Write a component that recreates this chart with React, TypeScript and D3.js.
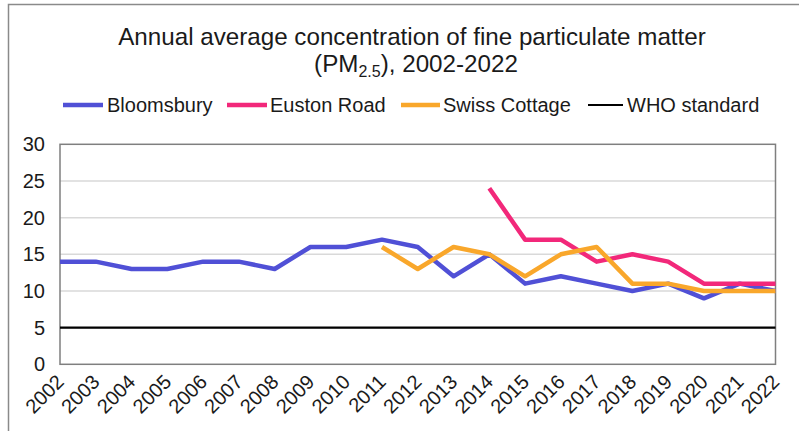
import React from "react";
import * as d3 from "d3";

const years = d3.range(2002, 2023);
const bloomsbury = [14, 14, 13, 13, 14, 14, 13, 16, 16, 17, 16, 12, 15, 11, 12, 11, 10, 11, 9, 11, 10];
const eustonYears = [2014, 2015, 2016, 2017, 2018, 2019, 2020, 2021, 2022];
const euston = [24, 17, 17, 14, 15, 14, 11, 11, 11];
const swissYears = [2011, 2012, 2013, 2014, 2015, 2016, 2017, 2018, 2019, 2020, 2021, 2022];
const swiss = [16, 13, 16, 15, 12, 15, 16, 11, 11, 10, 10, 10];
const whoStandard = 5;
const yTicks = [0, 5, 10, 15, 20, 25, 30];

const seriesNames = ["Bloomsbury", "Euston Road", "Swiss Cottage", "WHO standard"];
const seriesColors = ["#5050D6", "#F2287A", "#F9A72B", "#000000"];

const W = 799;
const H = 431;
const FONT = "'Liberation Sans', Arial, sans-serif";

export default function App() {
  const x = d3.scaleLinear().domain([2002, 2022]).range([60, 775.5]);
  const y = d3.scaleLinear().domain([0, 30]).range([364.3, 144.3]);
  const line = d3
    .line<[number, number]>()
    .x((d) => x(d[0]))
    .y((d) => y(d[1]));

  const series: { pts: [number, number][]; color: string; width: number }[] = [
    { pts: years.map((yr, i) => [yr, bloomsbury[i]]), color: seriesColors[0], width: 4.5 },
    { pts: eustonYears.map((yr, i) => [yr, euston[i]]), color: seriesColors[1], width: 4.5 },
    { pts: swissYears.map((yr, i) => [yr, swiss[i]]), color: seriesColors[2], width: 4.5 },
    { pts: years.map((yr) => [yr, whoStandard]), color: seriesColors[3], width: 2.2 },
  ];

  // legend entries: swatch start, swatch end, text start
  const legendSwatch: [number, number][] = [
    [63, 103],
    [227, 267],
    [401, 440],
    [588, 623],
  ];
  const legendTextX = [107, 270, 443, 627];
  const legendY = 105;

  return (
    <svg
      width={W}
      height={H}
      style={{ position: "fixed", left: 0, top: 0, background: "#fff" }}
      fontFamily={FONT}
    >
      <rect x={0} y={0} width={W} height={H} fill="#fff" />
      {/* outer chart frame */}
      <path d={`M8.5,${H + 5} V4.5 H${W + 5}`} fill="none" stroke="#8a8a8a" strokeWidth={1.5} />

      {/* title */}
      <text x={412} y={45} textAnchor="middle" fontSize={24.2} fill="#1a1a1a">
        Annual average concentration of fine particulate matter
      </text>
      <text x={416} y={72} textAnchor="middle" fontSize={24.2} fill="#1a1a1a">
        (PM<tspan fontSize={16} dy={5}>2.5</tspan>
        <tspan dy={-5}>), 2002-2022</tspan>
      </text>

      {/* legend */}
      {seriesNames.map((name, i) => (
        <g key={name}>
          <line
            x1={legendSwatch[i][0]}
            x2={legendSwatch[i][1]}
            y1={legendY}
            y2={legendY}
            stroke={seriesColors[i]}
            strokeWidth={i === 3 ? 2 : 4.5}
          />
          <text x={legendTextX[i]} y={legendY + 7} fontSize={20} fill="#1a1a1a">
            {name}
          </text>
        </g>
      ))}

      {/* gridlines */}
      {yTicks.slice(1, -1).map((t) => (
        <line key={t} x1={x(2002)} x2={x(2022)} y1={y(t)} y2={y(t)} stroke="#d9d9d9" strokeWidth={1.5} />
      ))}

      {/* plot frame */}
      <rect
        x={x(2002)}
        y={y(30)}
        width={x(2022) - x(2002)}
        height={y(0) - y(30)}
        fill="none"
        stroke="#7f7f7f"
        strokeWidth={1.5}
      />

      {/* y tick labels */}
      {yTicks.map((t) => (
        <text key={t} x={45} y={y(t) + 7} textAnchor="end" fontSize={20} fill="#1a1a1a">
          {t}
        </text>
      ))}

      {/* x tick labels, rotated */}
      {years.map((yr) => (
        <text
          key={yr}
          transform={`translate(${x(yr) - 5},${373}) rotate(-45)`}
          textAnchor="end"
          dy="0.72em"
          fontSize={20}
          fill="#1a1a1a"
        >
          {yr}
        </text>
      ))}

      {/* series lines */}
      {series.map((s, i) => (
        <path
          key={i}
          d={line(s.pts) || ""}
          fill="none"
          stroke={s.color}
          strokeWidth={s.width}
          strokeLinejoin="round"
        />
      ))}
    </svg>
  );
}
